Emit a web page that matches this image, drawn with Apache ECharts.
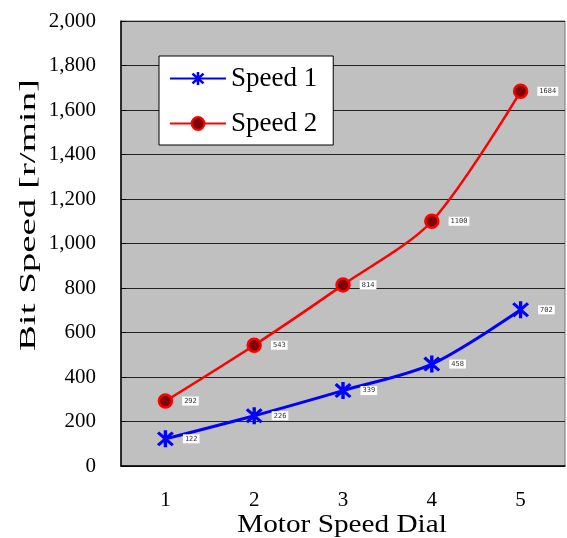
<!DOCTYPE html>
<html>
<head>
<meta charset="utf-8">
<script src="https://cdn.jsdelivr.net/npm/echarts@6/dist/echarts.min.js"></script>
<style>html,body{margin:0;padding:0;background:#fff}#c{width:567px;height:538px}</style>
</head>
<body>
<div id="c"></div>
<script>
var categories = ['1', '2', '3', '4', '5'];
var speed1 = [122, 226, 339, 458, 702];
var speed2 = [292, 543, 814, 1100, 1684];
var yTicks = [0, 200, 400, 600, 800, 1000, 1200, 1400, 1600, 1800, 2000];
var xTitle = 'Motor Speed Dial';
var yTitle = 'Bit Speed [r/min]';

var asterisk = 'path://M8.25 0 L11.75 0 L11.75 20 L8.25 20 Z M1.2 3.6 L3.6 1.2 L18.8 16.4 L16.4 18.8 Z M16.4 1.2 L18.8 3.6 L3.6 18.8 L1.2 16.4 Z';
var serif = '"Liberation Serif", "DejaVu Serif", serif';

var labelStyle = {
  show: true,
  position: 'right',
  distance: 9,
  fontSize: 7,
  fontFamily: '"DejaVu Sans Mono", monospace',
  color: '#333',
  backgroundColor: '#fff',
  padding: [1, 2]
};

var chart = echarts.init(document.getElementById('c'));
chart.setOption({
  animation: false,
  backgroundColor: '#fff',
  grid: {
    left: 121, right: 2, top: 21, bottom: 72,
    outerBoundsMode: 'none',
    containLabel: false,
    show: true, backgroundColor: '#C0C0C0', borderColor: '#777', borderWidth: 1
  },
  legend: {
    orient: 'vertical',
    left: 159, top: 56,
    backgroundColor: '#fff',
    borderColor: '#000',
    borderWidth: 1,
    padding: [9, 16, 8, 10],
    itemGap: 18,
    itemWidth: 56,
    itemHeight: 16,
    textStyle: { fontFamily: serif, fontSize: 27, lineHeight: 26, color: '#000' },
    data: ['Speed 1', 'Speed 2']
  },
  graphic: [
    {
      type: 'text',
      x: 29, y: 215,
      rotation: Math.PI / 2,
      scaleX: 1.62,
      style: {
        text: yTitle, fontFamily: serif, fontSize: 24, fill: '#000',
        align: 'center', verticalAlign: 'middle'
      }
    },
    {
      type: 'text',
      x: 342, y: 525,
      scaleX: 1.17,
      style: {
        text: xTitle, fontFamily: serif, fontSize: 25, fill: '#000',
        align: 'center', verticalAlign: 'middle'
      }
    }
  ],
  xAxis: {
    type: 'category',
    data: categories,
    boundaryGap: true,
    axisLine: { lineStyle: { color: '#000', width: 1.5 } },
    axisTick: { inside: true, length: 6, lineStyle: { color: '#000' } },
    axisLabel: { fontFamily: serif, fontSize: 21, color: '#000', margin: 24 },
    splitLine: { show: false }
  },
  yAxis: {
    type: 'value',
    min: yTicks[0],
    max: yTicks[yTicks.length - 1],
    interval: 200,
    axisLine: { show: true, lineStyle: { color: '#000', width: 1.5 } },
    axisTick: { show: true, inside: true, length: 5, lineStyle: { color: '#000' } },
    axisLabel: {
      fontFamily: serif, fontSize: 21, color: '#000', margin: 25,
      formatter: function (v) { return v.toLocaleString('en-US'); }
    },
    splitLine: { show: true, lineStyle: { color: '#222', width: 1 } }
  },
  series: [
    {
      name: 'Speed 1',
      type: 'line',
      data: speed1,
      smooth: 0.3,
      symbol: asterisk,
      symbolSize: 17,
      lineStyle: { color: '#0000FF', width: 3 },
      itemStyle: { color: '#0000FF' },
      label: labelStyle
    },
    {
      name: 'Speed 2',
      type: 'line',
      data: speed2,
      smooth: 0.3,
      symbol: 'circle',
      symbolSize: 13,
      lineStyle: { color: '#FF0000', width: 2.5 },
      itemStyle: { color: '#800000', borderColor: '#FF0000', borderWidth: 2.5 },
      label: labelStyle
    }
  ]
});
</script>
</body>
</html>
